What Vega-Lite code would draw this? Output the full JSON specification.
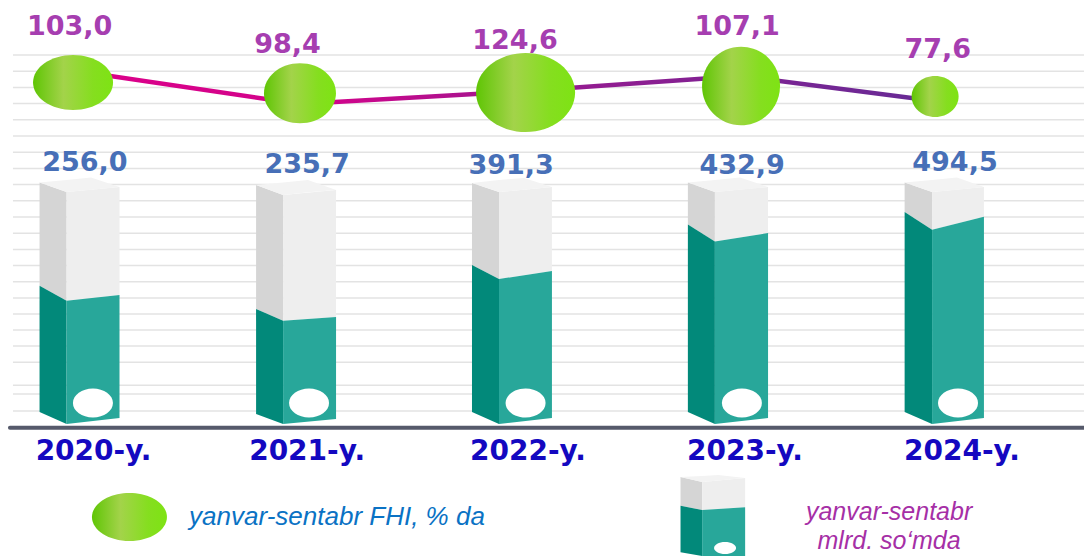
{
"$schema":"https://vega.github.io/schema/vega-lite/v6.json",
"width":1084,"height":556,"padding":0,
"autosize":"none",
"background":"white",
"config":{"view":{"stroke":null}},
"datasets":{
"grid":[{"level":871.4},{"level":833.5},{"level":795.6},{"level":757.8},{"level":719.9},{"level":682.0},{"level":644.1},{"level":606.3},{"level":568.4},{"level":530.5},{"level":492.6},{"level":454.7},{"level":416.9},{"level":379.0},{"level":341.1},{"level":303.2},{"level":265.8},{"level":228.4},{"level":191},{"level":152.9},{"level":99.1},{"level":78.8},{"level":39}],
"prism":[
{"bar":"2020","edge":"left","at":2019.815,"base":36.7,"teal":332,"top":573.3},
{"bar":"2020","edge":"mid","at":2019.940,"base":8.6,"teal":296.9,"top":551},
{"bar":"2020","edge":"right","at":2020.185,"base":22.6,"teal":310.2,"top":562.8},
{"bar":"2021","edge":"left","at":2020.817,"base":32,"teal":277.5,"top":567.4},
{"bar":"2021","edge":"mid","at":2020.942,"base":8.6,"teal":250.1,"top":544},
{"bar":"2021","edge":"right","at":2021.187,"base":20.3,"teal":258.8,"top":555.7},
{"bar":"2022","edge":"left","at":2021.816,"base":36.7,"teal":380.4,"top":572},
{"bar":"2022","edge":"mid","at":2021.941,"base":8.6,"teal":347.6,"top":551},
{"bar":"2022","edge":"right","at":2022.186,"base":22.6,"teal":366.3,"top":562.8},
{"bar":"2023","edge":"left","at":2022.815,"base":36.7,"teal":474.8,"top":573.3},
{"bar":"2023","edge":"mid","at":2022.940,"base":8.6,"teal":435.1,"top":551},
{"bar":"2023","edge":"right","at":2023.186,"base":22.6,"teal":455.2,"top":562.8},
{"bar":"2024","edge":"left","at":2023.818,"base":36.7,"teal":504.3,"top":573.3},
{"bar":"2024","edge":"mid","at":2023.945,"base":8.6,"teal":463.1,"top":551},
{"bar":"2024","edge":"right","at":2024.185,"base":22.6,"teal":493.5,"top":562.8},
{"bar":"key","edge":"left","at":2022.781,"base":-291.3,"teal":-182.4,"top":-115.3},
{"bar":"key","edge":"mid","at":2022.881,"base":-300,"teal":-192.5,"top":-127},
{"bar":"key","edge":"right","at":2023.080,"base":-300,"teal":-186.1,"top":-117.6}
],
"cap":[
{"bar":"2020","at":2019.815,"capHigh":573.3,"capLow":573.3},
{"bar":"2020","at":2019.940,"capHigh":579.4,"capLow":551},
{"bar":"2020","at":2020.053,"capHigh":585,"capLow":556.5},
{"bar":"2020","at":2020.185,"capHigh":562.8,"capLow":562.8},
{"bar":"2021","at":2020.817,"capHigh":567.4,"capLow":567.4},
{"bar":"2021","at":2020.942,"capHigh":573.5,"capLow":544},
{"bar":"2021","at":2021.057,"capHigh":579.1,"capLow":550.6},
{"bar":"2021","at":2021.187,"capHigh":555.7,"capLow":555.7},
{"bar":"2022","at":2021.816,"capHigh":572,"capLow":572},
{"bar":"2022","at":2021.941,"capHigh":579.4,"capLow":551},
{"bar":"2022","at":2022.057,"capHigh":584,"capLow":556.5},
{"bar":"2022","at":2022.186,"capHigh":562.8,"capLow":562.8},
{"bar":"2023","at":2022.815,"capHigh":573.3,"capLow":573.3},
{"bar":"2023","at":2022.940,"capHigh":579.4,"capLow":551},
{"bar":"2023","at":2023.056,"capHigh":585,"capLow":556.5},
{"bar":"2023","at":2023.186,"capHigh":562.8,"capLow":562.8},
{"bar":"2024","at":2023.818,"capHigh":573.3,"capLow":573.3},
{"bar":"2024","at":2023.945,"capHigh":579.4,"capLow":551},
{"bar":"2024","at":2024.060,"capHigh":585,"capLow":556.5},
{"bar":"2024","at":2024.185,"capHigh":562.8,"capLow":562.8},
{"bar":"key","at":2022.781,"capHigh":-115.3,"capLow":-115.3},
{"bar":"key","at":2022.881,"capHigh":-112.9,"capLow":-127},
{"bar":"key","at":2022.955,"capHigh":-110.6,"capLow":-123.5},
{"bar":"key","at":2023.080,"capHigh":-117.6,"capLow":-117.6}
],
"fhi":[
{"year":"2020-y.","fhi":"103,0","at":2019.970,"level":835.2,"bubbleAt":2019.970,"bubbleLevel":807.1,"labelAt":2019.954,"labelLevel":936.8},
{"year":"2021-y.","fhi":"98,4","at":2021.020,"level":756.8,"bubbleAt":2021.020,"bubbleLevel":781.9,"labelAt":2020.9625,"labelLevel":894.7},
{"year":"2022-y.","fhi":"124,6","at":2022.064,"level":787.2,"bubbleAt":2022.064,"bubbleLevel":783.7,"labelAt":2022.015,"labelLevel":904},
{"year":"2023-y.","fhi":"107,1","at":2023.061,"level":822.3,"bubbleAt":2023.061,"bubbleLevel":798.9,"labelAt":2023.043,"labelLevel":936.8},
{"year":"2024-y.","fhi":"77,6","at":2023.959,"level":763.8,"bubbleAt":2023.959,"bubbleLevel":774.4,"labelAt":2023.971,"labelLevel":883}
],
"bars":[
{"year":"2020-y.","value":"256,0","valueAt":2020.025,"valueLevel":619,"yearAt":2020.065,"yearLevel":-56.8,"holeAt":2020.062,"holeLevel":57.7},
{"year":"2021-y.","value":"235,7","valueAt":2021.053,"valueLevel":614.3,"yearAt":2021.053,"yearLevel":-56.8,"holeAt":2021.062,"holeLevel":57.7},
{"year":"2022-y.","value":"391,3","valueAt":2021.997,"valueLevel":610.8,"yearAt":2022.075,"yearLevel":-56.8,"holeAt":2022.064,"holeLevel":57.7},
{"year":"2023-y.","value":"432,9","valueAt":2023.066,"valueLevel":612.6,"yearAt":2023.079,"yearLevel":-56.8,"holeAt":2023.065,"holeLevel":57.7},
{"year":"2024-y.","value":"494,5","valueAt":2024.051,"valueLevel":619,"yearAt":2024.083,"yearLevel":-56.8,"holeAt":2024.065,"holeLevel":57.7}
]
},
"encoding":{
"x":{"field":"at","type":"quantitative","scale":{"domain":[2019.632,2024.648],"nice":false,"zero":false},"axis":null},
"y":{"field":"level","type":"quantitative","scale":{"domain":[-300,1000],"nice":false,"zero":false},"axis":null}
},
"layer":[
{"data":{"name":"grid"},"transform":[{"calculate":"2019.692","as":"from"},{"calculate":"2024.648","as":"to"}],"mark":{"type":"rule","stroke":"#e3e3e3","strokeWidth":1.5},
 "encoding":{"x":{"field":"from","type":"quantitative"},"x2":{"field":"to"}}},
{"data":{"name":"prism"},"transform":[{"filter":"datum.edge != 'right'"}],"mark":{"type":"area","fill":"#d5d5d5"},
 "encoding":{"detail":{"field":"bar"},"y":{"field":"top","type":"quantitative"},"y2":{"field":"teal"}}},
{"data":{"name":"prism"},"transform":[{"filter":"datum.edge != 'left'"}],"mark":{"type":"area","fill":"#eeeeee"},
 "encoding":{"detail":{"field":"bar"},"y":{"field":"top","type":"quantitative"},"y2":{"field":"teal"}}},
{"data":{"name":"cap"},"mark":{"type":"area","fill":"#f3f3f3"},
 "encoding":{"detail":{"field":"bar"},"y":{"field":"capHigh","type":"quantitative"},"y2":{"field":"capLow"}}},
{"data":{"name":"prism"},"transform":[{"filter":"datum.edge != 'right'"}],"mark":{"type":"area","fill":"#02897a"},
 "encoding":{"detail":{"field":"bar"},"y":{"field":"teal","type":"quantitative"},"y2":{"field":"base"}}},
{"data":{"name":"prism"},"transform":[{"filter":"datum.edge != 'left'"}],"mark":{"type":"area","fill":"#28a79a"},
 "encoding":{"detail":{"field":"bar"},"y":{"field":"teal","type":"quantitative"},"y2":{"field":"base"}}},
{"data":{"name":"bars"},"mark":{"type":"point","filled":true,"opacity":1,"fill":"#ffffff","stroke":null,"size":4,"shape":"M-20,0A20,14.5 0 1,1 20,0A20,14.5 0 1,1 -20,0Z"},
 "encoding":{"x":{"field":"holeAt","type":"quantitative"},"y":{"field":"holeLevel","type":"quantitative"}}},
{"data":{"values":[{"at":2022.987,"level":-281.5}]},"mark":{"type":"point","filled":true,"opacity":1,"fill":"#ffffff","stroke":null,"size":4,"shape":"M-11,0A11,6 0 1,1 11,0A11,6 0 1,1 -11,0Z"}},
{"data":{"values":[{"at":2019.678,"to":2024.648,"level":0}]},"mark":{"type":"rule","stroke":"#565a6b","strokeWidth":4,"strokeCap":"round"},
 "encoding":{"x2":{"field":"to"}}},
{"data":{"name":"fhi"},"mark":{"type":"line","strokeWidth":4.5,"stroke":{"gradient":"linear","x1":0,"y1":0,"x2":1,"y2":0,"stops":[{"offset":0,"color":"#dc0089"},{"offset":0.3,"color":"#d0048b"},{"offset":0.55,"color":"#981a90"},{"offset":0.8,"color":"#7b2393"},{"offset":1,"color":"#662b95"}]}},
 "encoding":{}},
{"data":{"name":"fhi"},"mark":{"type":"point","filled":true,"opacity":1,"stroke":null,"size":4,"fill":{"gradient":"linear","x1":0,"y1":0,"x2":1,"y2":0,"stops":[{"offset":0,"color":"#5fc505"},{"offset":0.38,"color":"#a3d34a"},{"offset":0.75,"color":"#85de1f"},{"offset":1,"color":"#7ee314"}]}},
 "encoding":{"x":{"field":"bubbleAt","type":"quantitative"},"y":{"field":"bubbleLevel","type":"quantitative"},
  "shape":{"field":"year","type":"nominal","legend":null,"scale":{"domain":["2020-y.","2021-y.","2022-y.","2023-y.","2024-y."],"range":["M-40,0A40,27.5 0 1,1 40,0A40,27.5 0 1,1 -40,0Z","M-36,0A36,30 0 1,1 36,0A36,30 0 1,1 -36,0Z","M-49.5,0A49.5,39.5 0 1,1 49.5,0A49.5,39.5 0 1,1 -49.5,0Z","M-39,0A39,39.3 0 1,1 39,0A39,39.3 0 1,1 -39,0Z","M-23.5,0A23.5,20.5 0 1,1 23.5,0A23.5,20.5 0 1,1 -23.5,0Z"]}}}},
{"data":{"values":[{"at":2020.231,"level":-208.9}]},"mark":{"type":"point","filled":true,"opacity":1,"stroke":null,"size":4,"shape":"M-37.5,0A37.5,24 0 1,1 37.5,0A37.5,24 0 1,1 -37.5,0Z","fill":{"gradient":"linear","x1":0,"y1":0,"x2":1,"y2":0,"stops":[{"offset":0,"color":"#5fc505"},{"offset":0.38,"color":"#a3d34a"},{"offset":0.75,"color":"#85de1f"},{"offset":1,"color":"#7ee314"}]}}},
{"data":{"name":"fhi"},"mark":{"type":"text","font":"DejaVu Sans","fontWeight":"bold","fontSize":27,"fill":"#a63eb0","baseline":"middle","align":"center"},
 "encoding":{"x":{"field":"labelAt","type":"quantitative"},"y":{"field":"labelLevel","type":"quantitative"},"text":{"field":"fhi"}}},
{"data":{"name":"bars"},"mark":{"type":"text","font":"DejaVu Sans","fontWeight":"bold","fontSize":27,"fill":"#476fb7","baseline":"middle","align":"center"},
 "encoding":{"x":{"field":"valueAt","type":"quantitative"},"y":{"field":"valueLevel","type":"quantitative"},"text":{"field":"value"}}},
{"data":{"name":"bars"},"mark":{"type":"text","font":"DejaVu Sans","fontWeight":"bold","fontSize":28,"fill":"#1408c0","baseline":"middle","align":"center"},
 "encoding":{"x":{"field":"yearAt","type":"quantitative"},"y":{"field":"yearLevel","type":"quantitative"},"text":{"field":"year"}}},
{"data":{"values":[{"at":2020.507,"level":-208.9,"label":"yanvar-sentabr FHI, % da"}]},"mark":{"type":"text","font":"Liberation Sans","fontStyle":"italic","fontSize":26,"fill":"#0a72c4","baseline":"middle","align":"left"},
 "encoding":{"text":{"field":"label"}}},
{"data":{"values":[{"at":2023.746,"level":-197,"label":"yanvar-sentabr"},{"at":2023.746,"level":-265,"label":"mlrd. so‘mda"}]},"mark":{"type":"text","font":"Liberation Sans","fontStyle":"italic","fontSize":25,"fill":"#a62fa6","baseline":"middle","align":"center"},
 "encoding":{"text":{"field":"label"}}}
]
}
